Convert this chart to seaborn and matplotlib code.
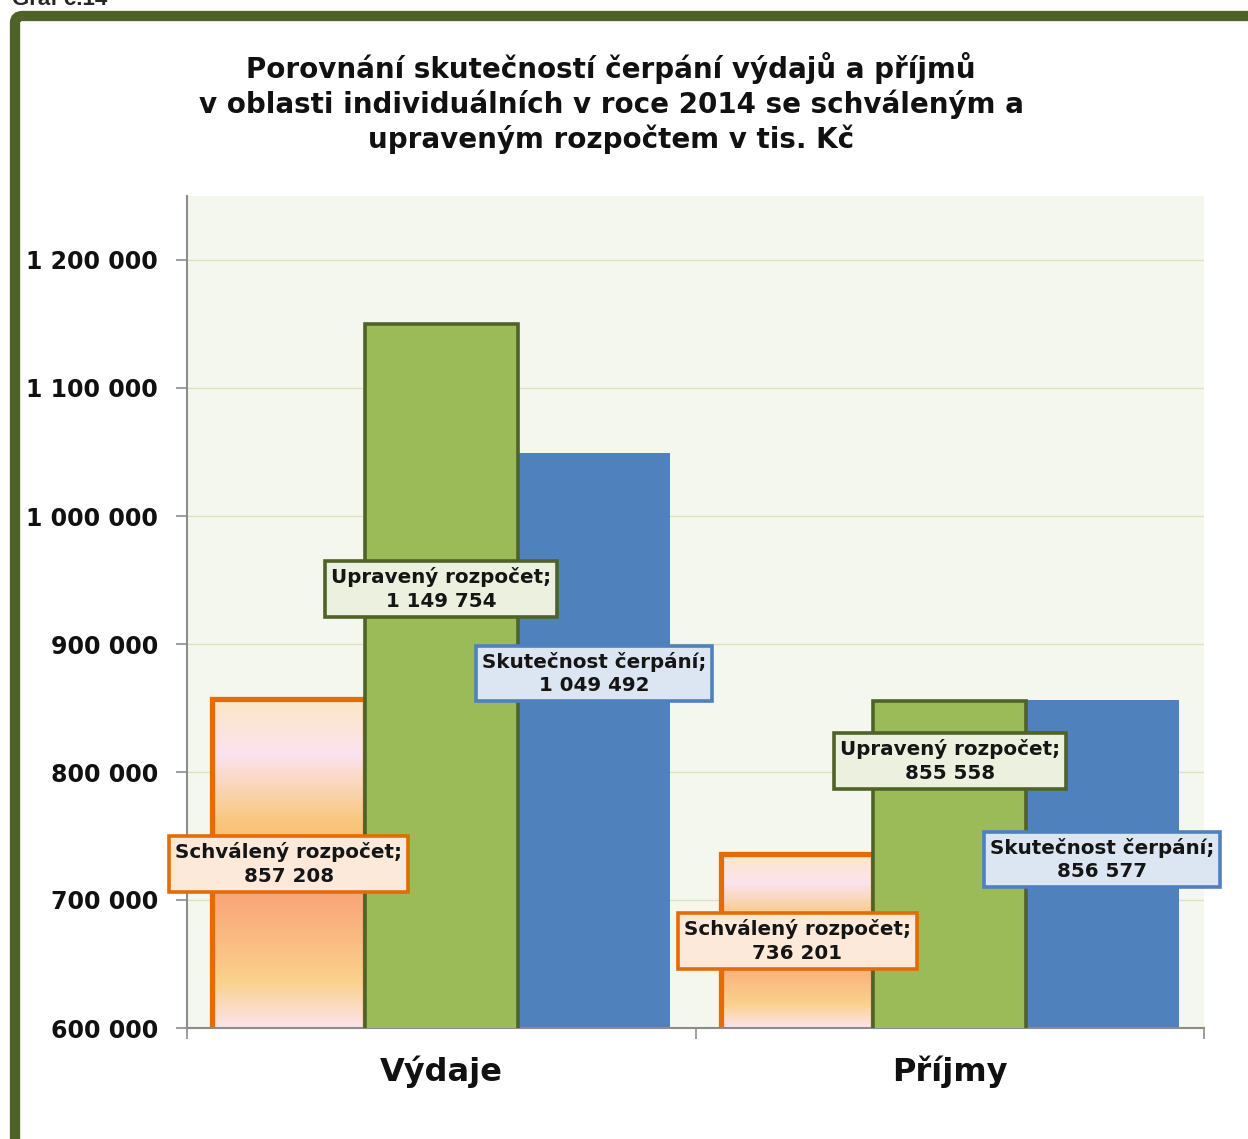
import numpy as np
import pandas as pd
import matplotlib
matplotlib.use("Agg")
import matplotlib.pyplot as plt
import seaborn as sns
from matplotlib.colors import LinearSegmentedColormap
from matplotlib.patches import FancyBboxPatch

# --- DATA ---
kategorie = ["Výdaje", "Příjmy"]
serie = ["Schválený rozpočet", "Upravený rozpočet", "Skutečnost čerpání"]
schvaleny = [857208, 736201]
upraveny = [1149754, 855558]
skutecnost = [1049492, 856577]
titulek = ("Porovnání skutečností čerpání výdajů a příjmů\n"
           "v oblasti individuálních v roce 2014 se schváleným a\n"
           "upraveným rozpočtem v tis. Kč")

dados = pd.DataFrame({
    "kategorie": kategorie * 3,
    "serie": [s for s in serie for _ in kategorie],
    "hodnota": schvaleny + upraveny + skutecnost,
})

# --- STYLE ---
sns.set_style("white")
plt.rcParams["font.family"] = ["DejaVu Sans"]
plt.rcParams["font.weight"] = "bold"

barvy = {"Schválený rozpočet": "#F9C57A", "Upravený rozpočet": "#9BBB59", "Skutečnost čerpání": "#4F81BD"}
popisky_fc = ["#FDE9D9", "#EBF1DE", "#DCE6F2"]
popisky_ec = ["#E36C09", "#4F6228", "#4F81BD"]
# label centre heights (layout, in axis units)
popisky_y = [[728000, 668000], [943000, 808500], [877000, 731500]]

fig = plt.figure(figsize=(12.48, 11.39), dpi=100)
ax = fig.add_axes([187/1248, 1 - 1028/1139, (1204-187)/1248, (1028-196)/1139])
ax.set_facecolor("#F4F7EE")

sns.barplot(data=dados, x="kategorie", y="hodnota", hue="serie", order=kategorie,
            hue_order=serie, palette=barvy, width=0.9, gap=0, saturation=1,
            legend=False, ax=ax)

ymin, ymax = 600000, 1250000

grad = LinearSegmentedColormap.from_list("sunset", [
    (0.0, "#FBE7C6"), (0.17, "#FCE3EE"), (0.38, "#F8C679"),
    (0.6, "#F9A679"), (0.86, "#FAD18C"), (1.0, "#FCE4EC")])
g = np.linspace(0, 1, 256).reshape(-1, 1)

for i, cont in enumerate(ax.containers):
    for bar in cont:
        if i == 0:
            x, w, h = bar.get_x(), bar.get_width(), bar.get_height()
            ax.imshow(g, cmap=grad, extent=[x, x + w, ymin, h], aspect="auto",
                      origin="upper", zorder=2, interpolation="bilinear")
            bar.set_facecolor("none")
            bar.set_edgecolor("#E36C09")
            bar.set_linewidth(3.8)
            bar.set_zorder(2.5)
        elif i == 1:
            bar.set_edgecolor("#4F6228")
            bar.set_linewidth(2.6)
            bar.set_zorder(3)
        else:
            bar.set_edgecolor("none")
            bar.set_zorder(2)

# data labels
for i, cont in enumerate(ax.containers):
    for j, bar in enumerate(cont):
        v = f"{int(bar.get_height()):,}".replace(",", " ")
        ax.text(bar.get_x() + bar.get_width() / 2, popisky_y[i][j],
                f"{serie[i]};\n{v}", ha="center", va="center", fontsize=14.3,
                fontweight="bold", color="#151515", linespacing=1.3, zorder=6,
                bbox=dict(boxstyle="square,pad=0.3", fc=popisky_fc[i],
                          ec=popisky_ec[i], lw=2.6))

ax.set_xlim(-0.5, 1.5)
ax.set_ylim(ymin, ymax)
ax.set_yticks(np.arange(600000, 1200001, 100000))
ax.set_yticklabels([f"{t:,}".replace(",", " ") for t in range(600000, 1200001, 100000)],
                   fontsize=17, fontweight="bold", color="#111111")
ax.yaxis.grid(True, color="#D7E4BD", lw=1)
ax.set_axisbelow(True)
ax.tick_params(axis="y", length=8, width=1.2, color="#8C8C8C", pad=13, direction="out", left=True)
ax.set_xticks([0, 1])
ax.set_xticklabels(kategorie, fontsize=23, fontweight="bold", color="#111111")
ax.set_xticks([-0.5, 0.5, 1.5], minor=True)
ax.tick_params(axis="x", which="major", length=0, pad=20)
ax.tick_params(axis="x", which="minor", length=8, width=1.2, color="#8C8C8C", direction="out", bottom=True)
ax.set_xlabel("")
ax.set_ylabel("")
for s in ["top", "right"]:
    ax.spines[s].set_visible(False)
for s in ["left", "bottom"]:
    ax.spines[s].set_color("#8C8C8C")
    ax.spines[s].set_linewidth(1.5)

# title and frame
fig.text(611/1248, 1 - 103/1139, titulek, ha="center", va="center", fontsize=20,
         fontweight="bold", color="#111111", linespacing=1.22)
fig.text(12/1248, 1 - 5/1139, "Graf č.14", ha="left", va="baseline", fontsize=16,
         fontweight="bold", family=["Liberation Sans"])
ramecek = FancyBboxPatch((15/1248, -0.05), 1.2, 1 - 16/1139 + 0.05,
                         boxstyle="round,pad=0,rounding_size=0.006",
                         transform=fig.transFigure, fc="none", ec="#4F6228",
                         lw=7.4, zorder=10, clip_on=False)
fig.patches.append(ramecek)

fig.savefig("out.png", dpi=100)
